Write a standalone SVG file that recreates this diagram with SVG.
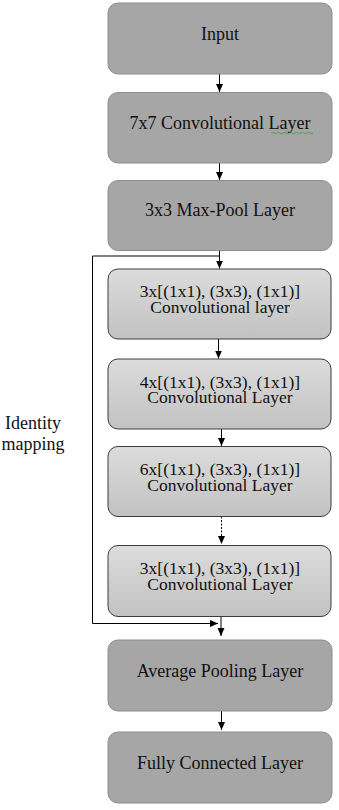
<svg xmlns="http://www.w3.org/2000/svg" width="339" height="810" viewBox="0 0 339 810">
<style>
.dark{fill:#a6a6a6;stroke:#8c8c8c;stroke-width:1}
.light{fill:url(#lg);stroke:#3c3c3c;stroke-width:1}
.t{font-family:"Liberation Serif","Times New Roman",serif;font-size:18px;fill:#111;text-anchor:middle}
.t2{font-size:17.5px}
.c{stroke:#000;stroke-width:1;fill:none}
</style>
<defs>
<linearGradient id="lg" x1="0" y1="0" x2="0" y2="1">
<stop offset="0" stop-color="#dcdcdc"/>
<stop offset="1" stop-color="#c2c2c2"/>
</linearGradient>
<marker id="ah" markerWidth="9" markerHeight="8" refX="8" refY="4" orient="auto" markerUnits="userSpaceOnUse">
<path d="M0,0.5 L8,4 L0,7.5 z" fill="#000"/>
</marker>
</defs>
<rect width="339" height="810" fill="#fff"/>
<g id="connectors">
<path class="c" d="M219.5,74 V92" marker-end="url(#ah)"/>
<path class="c" d="M219.5,163 V180" marker-end="url(#ah)"/>
<path class="c" d="M219.5,250.5 V268.5" marker-end="url(#ah)"/>
<path class="c" d="M218.5,339 V358.5" marker-end="url(#ah)"/>
<path class="c" d="M221.5,429 V446" marker-end="url(#ah)"/>
<path class="c" d="M221.5,516.5 V544" stroke-dasharray="2,1.5" marker-end="url(#ah)"/>
<path class="c" d="M221,616.5 V636" marker-end="url(#ah)"/>
<path class="c" d="M221.5,711 V730" marker-end="url(#ah)"/>
<path class="c" d="M219.5,256 H92.5 V623.5 H218" marker-end="url(#ah)"/>
</g>
<g id="input"><rect class="dark" x="108" y="3" width="224" height="71" rx="10"/><text class="t" x="220" y="39.5">Input</text></g>
<g id="conv7"><rect class="dark" x="108" y="92.5" width="224" height="70.5" rx="10"/><text class="t" x="220" y="128.5">7x7 Convolutional Layer</text>
<path d="M271,133 q1.5,-1.5 3,0 t3,0 t3,0 t3,0 t3,0 t3,0 t3,0 t3,0 t3,0 t3,0 t3,0 t3,0 t3,0 t3,0" fill="none" stroke="#3a9a3a" stroke-width="0.8"/></g>
<g id="maxpool"><rect class="dark" x="108" y="180.5" width="224" height="70" rx="10"/><text class="t" x="220" y="216">3x3 Max-Pool Layer</text></g>
<g id="block1"><rect class="light" x="108" y="269" width="223" height="70" rx="10"/><text class="t t2" x="220" y="297">3x[(1x1), (3x3), (1x1)]</text><text class="t t2" x="220" y="312.5">Convolutional layer</text></g>
<g id="block2"><rect class="light" x="108" y="359" width="223" height="70" rx="10"/><text class="t t2" x="220" y="387.5">4x[(1x1), (3x3), (1x1)]</text><text class="t t2" x="220" y="403">Convolutional Layer</text></g>
<g id="block3"><rect class="light" x="108" y="446.5" width="223" height="70" rx="10"/><text class="t t2" x="220" y="475">6x[(1x1), (3x3), (1x1)]</text><text class="t t2" x="220" y="490.5">Convolutional Layer</text></g>
<g id="block4"><rect class="light" x="108" y="545.5" width="223" height="71" rx="10"/><text class="t t2" x="220" y="574">3x[(1x1), (3x3), (1x1)]</text><text class="t t2" x="220" y="589.5">Convolutional Layer</text></g>
<g id="avgpool"><rect class="dark" x="108" y="640" width="224" height="71" rx="10"/><text class="t" x="220" y="676.5">Average Pooling Layer</text></g>
<g id="fc"><rect class="dark" x="108" y="732" width="224" height="71" rx="10"/><text class="t" x="220" y="768.5">Fully Connected Layer</text></g>
<g id="identity-label"><text class="t" x="33" y="429">Identity</text><text class="t" x="33" y="450">mapping</text></g>
</svg>
